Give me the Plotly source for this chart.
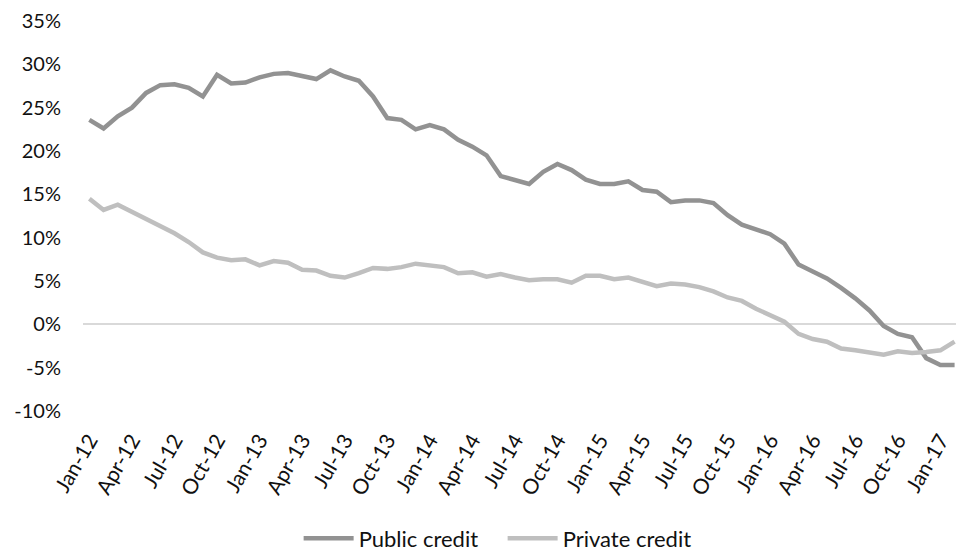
import plotly.graph_objects as go

month_names = ["Jan", "Feb", "Mar", "Apr", "May", "Jun", "Jul", "Aug", "Sep", "Oct", "Nov", "Dec"]
months = [f"{m}-{y:02d}" for y in range(12, 18) for m in month_names][:62]

public_credit = [23.6, 22.6, 24.0, 25.0, 26.7, 27.6, 27.7, 27.3, 26.3, 28.8,
                 27.8, 27.9, 28.5, 28.9, 29.0, 28.7, 28.3, 29.3, 28.6, 28.1,
                 26.3, 23.8, 23.6, 22.5, 23.0, 22.5, 21.3, 20.5, 19.5, 17.1,
                 16.6, 16.2, 17.6, 18.5, 17.8, 16.7, 16.2, 16.2, 16.5, 15.5,
                 15.3, 14.1, 14.3, 14.3, 14.0, 12.6, 11.5, 10.9, 10.4, 9.3,
                 6.9, 6.1, 5.3, 4.2, 3.0, 1.6, -0.2, -1.1, -1.5, -3.9,
                 -4.7, -4.7]
private_credit = [14.5, 13.2, 13.8, 13.0, 12.1, 11.3, 10.5, 9.5, 8.3, 7.7,
                  7.4, 7.5, 6.8, 7.3, 7.1, 6.3, 6.2, 5.6, 5.4, 5.9,
                  6.5, 6.4, 6.6, 7.0, 6.8, 6.6, 5.9, 6.0, 5.5, 5.8,
                  5.4, 5.1, 5.2, 5.2, 4.8, 5.6, 5.6, 5.2, 5.4, 4.9,
                  4.4, 4.7, 4.6, 4.3, 3.8, 3.1, 2.7, 1.8, 1.1, 0.3,
                  -1.1, -1.7, -2.0, -2.8, -3.0, -3.3, -3.5, -3.1, -3.3, -3.2,
                  -3.0, -2.0]
y_ticks = [-10, -5, 0, 5, 10, 15, 20, 25, 30, 35]
y_tick_labels = [f"{v}%" for v in y_ticks]
x_tick_labels = months[::3]

FONT = "Lato, Calibri, Carlito, sans-serif"

fig = go.Figure()
fig.add_trace(go.Scatter(x=months, y=public_credit, mode="lines", name="Public credit",
                         line=dict(color="#929292", width=4.5)))
fig.add_trace(go.Scatter(x=months, y=private_credit, mode="lines", name="Private credit",
                         line=dict(color="#bfbfbf", width=4.5)))

fig.update_layout(
    width=956, height=551,
    margin=dict(l=83, r=0, t=21, b=140, autoexpand=False),
    paper_bgcolor="white", plot_bgcolor="white",
    font=dict(family=FONT, size=20, color="#111111"),
    showlegend=True,
    legend=dict(orientation="h", x=0.247, xanchor="left", y=-0.327, yanchor="middle",
                font=dict(size=22), itemwidth=50, entrywidth=139, entrywidthmode="pixels"),
    xaxis=dict(type="category", categoryorder="array", categoryarray=months,
               range=[-0.45, 61.1], tickmode="array", tickvals=x_tick_labels,
               ticktext=x_tick_labels, tickangle=-60, showgrid=False, zeroline=False,
               showline=False, ticks="", ticklabelstandoff=12, automargin=False,
               tickfont=dict(size=21)),
    yaxis=dict(range=[-10, 35], tickmode="array", tickvals=y_ticks, ticktext=y_tick_labels,
               showgrid=False, zeroline=True, zerolinecolor="#d9d9d9", zerolinewidth=1.5,
               showline=False, ticks="", ticklabelstandoff=21, automargin=False),
)

fig.write_html("out.html")
